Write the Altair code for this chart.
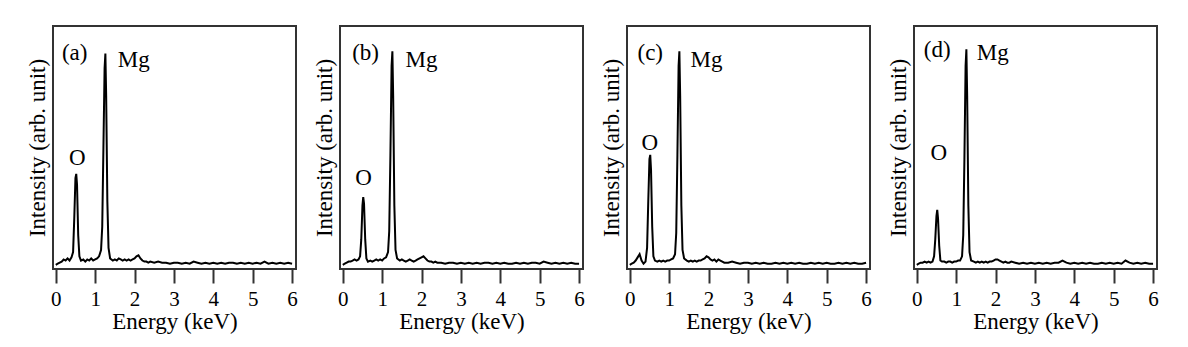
import altair as alt
import pandas as pd

# Energy grid (keV), shared by all four spectra
energy = [0.00, 0.05, 0.10, 0.15, 0.20, 0.25, 0.30, 0.35, 0.40,
          0.44, 0.47, 0.50, 0.52, 0.54, 0.57, 0.60, 0.64,
          0.70, 0.75, 0.80, 0.85, 0.90, 0.95, 1.00, 1.05, 1.10, 1.15,
          1.18, 1.21, 1.24, 1.26, 1.28, 1.31, 1.34, 1.38,
          1.45, 1.50, 1.55, 1.60, 1.65, 1.70, 1.75, 1.80, 1.85, 1.90,
          1.95, 2.00, 2.05, 2.10, 2.15, 2.20, 2.25, 2.30, 2.35, 2.40,
          2.50, 2.60, 2.70, 2.80, 2.90, 3.00, 3.10, 3.20, 3.30, 3.40,
          3.50, 3.60, 3.70, 3.80, 3.90, 4.00, 4.10, 4.20, 4.30, 4.40,
          4.50, 4.60, 4.70, 4.80, 4.90, 5.00, 5.10, 5.20, 5.30, 5.40,
          5.50, 5.60, 5.70, 5.80, 5.90, 6.00]

# Intensity (arb. unit)
int_a = [0.0, 0.5, 1.0, 1.5, 2.5, 2.0, 3.0, 2.0, 3.5,
         6, 22, 41, 43, 38, 14, 4, 2,
         2.5, 1.5, 2.5, 2, 3, 2, 2.5, 3, 4, 7,
         18, 55, 93, 100, 80, 30, 8, 3,
         2, 2.5, 2, 3, 2.5, 2, 2.5, 2, 2.5, 2,
         2.5, 3, 4, 4.5, 3, 2, 1.5, 1.5, 1, 1.5,
         1, 1.5, 1, 1, 0.5, 1, 1, 0.5, 1, 0.5,
         1.5, 1, 0.5, 1, 0.5, 1, 0.5, 1, 0.5, 1,
         1, 0.5, 1, 0.5, 1, 0.5, 1, 0.5, 1.5, 0.5,
         1, 0.5, 1, 0.5, 1, 0.5]
int_b = [0.0, 0.5, 1, 1.5, 1.5, 2, 2.5, 2, 2.5,
         4, 12, 28, 32, 29, 12, 3, 1.5,
         2, 1.5, 2, 2.5, 2, 2.5, 2, 3, 3.5, 6,
         16, 52, 94, 101, 80, 28, 7, 3,
         2, 2.5, 2, 1.5, 2, 2.5, 2, 1.5, 2, 2.5,
         3, 3.5, 4, 3, 2, 1.5, 1.5, 1, 1.5, 1,
         1, 0.5, 1, 1, 0.5, 1, 0.5, 1, 0.5, 1,
         0.5, 1, 1, 0.5, 1, 0.5, 1, 0.5, 0.5, 1,
         0.5, 1, 0.5, 1, 1, 0.5, 1.5, 1, 0.5, 1,
         0.5, 1, 0.5, 1, 0.5, 0.5]
int_c = [0, 0.5, 1, 2, 3.5, 5, 2, 0.5, 1.5,
         8, 30, 50, 52, 45, 18, 4, 2,
         1.5, 2, 1.5, 2, 1.5, 2, 2, 2.5, 3, 5,
         15, 52, 94, 101, 80, 28, 7, 3,
         2, 1.5, 2, 1.5, 2, 1.5, 2, 2, 2.5, 3,
         4, 3.5, 2.5, 2, 2.5, 1.5, 2.5, 2, 1.5, 1,
         1, 1.5, 1, 0.5, 1, 1, 0.5, 1, 0.5, 1,
         0.5, 0.5, 1, 0.5, 1, 0.5, 1, 0.5, 1, 0.5,
         0.5, 1, 0.5, 1, 0.5, 1, 0.5, 0.5, 1, 0.5,
         1, 0.5, 1, 0.5, 0.5, 1]
int_d = [0, 0.5, 1, 1, 1.5, 1, 1.5, 1, 1.5,
         4, 12, 23, 26, 22, 9, 2, 1.5,
         1.5, 1, 1.5, 1.5, 1, 1.5, 1.5, 2, 2, 4,
         14, 50, 94, 102, 80, 28, 6, 2,
         1.5, 1, 1.5, 1, 1.5, 1, 1.5, 1, 1.5, 1.5,
         2, 2.5, 2.5, 2, 1.5, 1, 1.5, 1, 1, 1.5,
         1, 0.5, 1, 0.5, 1, 0.5, 1, 0.5, 1, 0.5,
         1, 1, 2, 1, 0.5, 1, 0.5, 1, 0.5, 1,
         0.5, 0.5, 1, 0.5, 1, 0.5, 1, 0.5, 2, 1,
         0.5, 1, 0.5, 1, 0.5, 0.5]

panel_labels = ["(a)", "(b)", "(c)", "(d)"]
peak_labels = ["Mg", "O"]
# annotation anchor points in data units (keV, intensity)
tag_x = [0.48, 0.58, 0.52, 0.52]
tag_y = [97, 97, 97, 98.3]
mg_x = [1.98, 2.00, 1.95, 1.93]
mg_y = [93.7, 93.7, 93.7, 96.9]
o_x = [0.55, 0.53, 0.51, 0.56]
o_y = [47.3, 37.8, 54.4, 49.6]

x_ticks = [0, 1, 2, 3, 4, 5, 6]

series = [int_a, int_b, int_c, int_d]
for s in series:
    assert len(s) == len(energy), len(s)

FONT = "Liberation Serif"

panels = []
for i, s in enumerate(series):
    df = pd.DataFrame({"energy": energy, "intensity": s})
    ann = pd.DataFrame({
        "label": [panel_labels[i], peak_labels[0], peak_labels[1]],
        "x": [tag_x[i], mg_x[i], o_x[i]],
        "y": [tag_y[i], mg_y[i], o_y[i]],
    })
    xscale = alt.Scale(domain=[-0.07, 6.1], nice=False, zero=False)
    yscale = alt.Scale(domain=[-2, 113], nice=False, zero=False)
    line = alt.Chart(df).mark_line(color="black", strokeWidth=2, clip=True).encode(
        x=alt.X("energy:Q", scale=xscale,
                axis=alt.Axis(values=x_ticks, title="Energy (keV)", format="d",
                              labelFont=FONT, labelFontSize=21, labelColor="black",
                              titleFont=FONT, titleFontSize=23, titleColor="black",
                              titleFontWeight="normal",
                              domain=False, ticks=True, tickSize=14, tickWidth=2,
                              tickColor="#333333", labelPadding=5, titlePadding=1,
                              grid=False)),
        y=alt.Y("intensity:Q", scale=yscale,
                axis=alt.Axis(title="Intensity (arb. unit)", labels=False,
                              ticks=False, domain=False, grid=False,
                              titleFont=FONT, titleFontSize=23, titleColor="black",
                              titleFontWeight="normal", titlePadding=4)),
    )
    text = alt.Chart(ann).mark_text(font=FONT, fontSize=23, baseline="alphabetic",
                                    align="center", color="black").encode(
        x=alt.X("x:Q", scale=xscale),
        y=alt.Y("y:Q", scale=yscale),
        text="label:N",
    )
    layer = alt.layer(line, text).properties(width=243, height=243)
    if i == 3:
        layer = layer.properties(title=alt.TitleParams(" ", fontSize=1, offset=4))
    panels.append(layer)

chart = alt.hconcat(*panels, spacing=13).properties(
    padding={"left": 25, "top": 20, "right": 5, "bottom": 5}
).configure_view(
    stroke="#333333", strokeWidth=2
)

chart.save("out.html", embed_options={"renderer": "svg", "actions": False})
